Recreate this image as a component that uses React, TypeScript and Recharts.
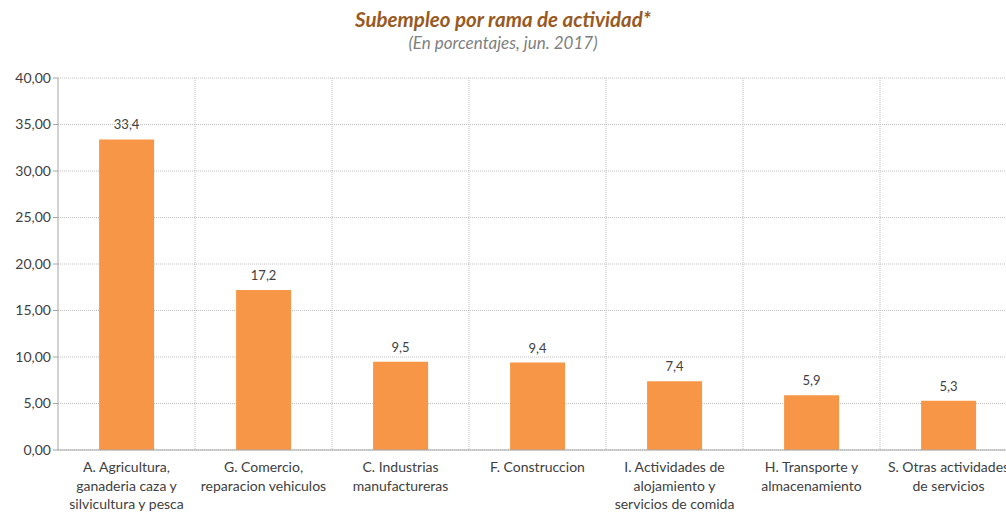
import { BarChart, Bar, XAxis, YAxis, CartesianGrid, LabelList } from "recharts";

// categorías (saltos de línea como en el original)
const categories = [
  "A. Agricultura,\nganaderia caza y\nsilvicultura y pesca",
  "G. Comercio,\nreparacion vehiculos",
  "C. Industrias\nmanufactureras",
  "F. Construccion",
  "I. Actividades de\nalojamiento y\nservicios de comida",
  "H. Transporte y\nalmacenamiento",
  "S. Otras actividades\nde servicios",
];

const values = [33.4, 17.2, 9.5, 9.4, 7.4, 5.9, 5.3];

const yTicks = [0, 5, 10, 15, 20, 25, 30, 35, 40];

const data = categories.map((name, i) => ({ name, value: values[i] }));

const FONT = "Lato, 'Noto Sans', sans-serif";
const CHART_W = 1017;
const CHART_H = 514;
const MARGIN = { top: 78, right: 0, bottom: 0, left: 0 };
const Y_W = 58;

const fmtY = (v: number) => v.toFixed(2).replace(".", ",");
const fmtLabel = (v: any) => String(v).replace(".", ",");

const CategoryTick = (props: any) => {
  const { x, y, payload } = props;
  const lines = String(payload.value).split("\n");
  return (
    <text x={x} y={y + 14} textAnchor="middle" fill="#404040" fontSize={14} fontFamily={FONT}>
      {lines.map((l, i) => (
        <tspan key={i} x={x} dy={i === 0 ? 0 : 18.5}>
          {l}
        </tspan>
      ))}
    </text>
  );
};

// líneas verticales en los límites de cada categoría
const verticalGen = () => {
  const plotW = CHART_W - Y_W - MARGIN.left - MARGIN.right;
  const step = plotW / categories.length;
  return categories.map((_, i) => Y_W + MARGIN.left + step * (i + 1));
};

export default function App() {
  return (
    <div
      style={{
        position: "absolute",
        left: 0,
        top: 0,
        width: 1006,
        height: 514,
        overflow: "hidden",
        background: "#fff",
      }}
    >
      <div
        style={{
          position: "absolute",
          top: 6,
          left: 0,
          width: 1006,
          textAlign: "center",
          fontFamily: FONT,
        }}
      >
        <div style={{ fontSize: 20.5, fontWeight: 700, fontStyle: "italic", color: "#985A22", lineHeight: "26px" }}>
          Subempleo por rama de actividad*
        </div>
        <div style={{ fontSize: 17, fontStyle: "italic", color: "#7F7F7F", lineHeight: "22px" }}>
          (En porcentajes, jun. 2017)
        </div>
      </div>
      <div style={{ position: "absolute", left: 0, top: 0 }}>
        <BarChart width={CHART_W} height={CHART_H} data={data} margin={MARGIN} barCategoryGap="30%">
          <CartesianGrid
            stroke="#BFBFBF"
            strokeDasharray="1 1"
            vertical={true}
            verticalCoordinatesGenerator={verticalGen}
          />
          <XAxis
            dataKey="name"
            interval={0}
            height={64}
            axisLine={{ stroke: "#A6A6A6" }}
            tickLine={false}
            tick={<CategoryTick />}
          />
          <YAxis
            width={Y_W}
            domain={[0, 40]}
            ticks={yTicks}
            tickFormatter={fmtY}
            axisLine={{ stroke: "#A6A6A6" }}
            tickLine={{ stroke: "#A6A6A6" }}
            tickSize={5}
            tick={{ fill: "#404040", fontSize: 14, fontFamily: FONT }}
          />
          <Bar dataKey="value" fill="#F79646" isAnimationActive={false}>
            <LabelList
              dataKey="value"
              position="top"
              offset={10}
              formatter={fmtLabel}
              fill="#404040"
              fontSize={13}
              fontFamily={FONT}
            />
          </Bar>
        </BarChart>
      </div>
    </div>
  );
}
